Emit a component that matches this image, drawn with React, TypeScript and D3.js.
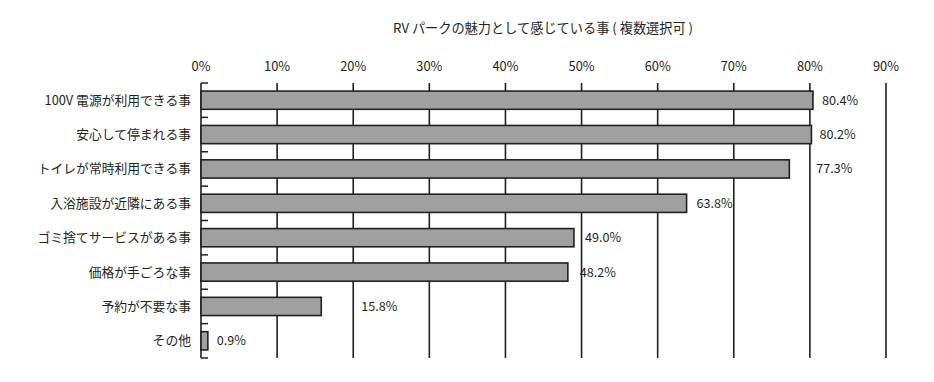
import React from "react";
import * as d3 from "d3";

const categories = [
  "100V 電源が利用できる事",
  "安心して停まれる事",
  "トイレが常時利用できる事",
  "入浴施設が近隣にある事",
  "ゴミ捨てサービスがある事",
  "価格が手ごろな事",
  "予約が不要な事",
  "その他",
];
const values = [80.4, 80.2, 77.3, 63.8, 49.0, 48.2, 15.8, 0.9];
const valueLabels = ["80.4%", "80.2%", "77.3%", "63.8%", "49.0%", "48.2%", "15.8%", "0.9%"];
const tickValues = [0, 10, 20, 30, 40, 50, 60, 70, 80, 90];
const title = "RV パークの魅力として感じている事 ( 複数選択可 )";
// label offsets (px) after bar end, as in the reference
const labelNudge = [9, 8, 27, 10, 11, 12, 40, 9];

const W = 934;
const H = 382;
const font = "'Noto Sans CJK JP', 'Noto Sans', sans-serif";
const ink = "#231f20";

export default function App() {
  const x = d3.scaleLinear().domain([0, 90]).range([201, 886]);
  const y = d3.scaleBand<string>().domain(categories).range([83, 358]).paddingInner(0.47).paddingOuter(0.235);
  const band = d3.scaleBand<string>().domain(categories).range([83, 358]);
  return (
    <svg width={W} height={H} style={{ position: "absolute", left: 0, top: 0 }} fontFamily={font}>
      <rect width={W} height={H} fill="#fff" />
      <text x={543} y={33} textAnchor="middle" fontSize={13.2} fill={ink}>{title}</text>
      {tickValues.map((t) => (
        <g key={t}>
          <text x={x(t)} y={71} textAnchor="middle" fontSize={12.8} fill={ink}>{t}%</text>
          <line x1={x(t)} x2={x(t)} y1={83} y2={358} stroke={ink} strokeWidth={1.6} />
        </g>
      ))}
      {categories.map((c, i) => (
        <line key={"tk" + i} x1={x(0)} x2={x(0) + 7} y1={band(c)!} y2={band(c)!} stroke={ink} strokeWidth={1.5} />
      ))}
      <line x1={x(0)} x2={x(0) + 7} y1={358} y2={358} stroke={ink} strokeWidth={1.5} />
      {categories.map((c, i) => (
        <g key={c}>
          <rect x={x(0)} y={y(c)!} width={x(values[i]) - x(0)} height={y.bandwidth()} fill="#a0a0a0" stroke={ink} strokeWidth={1.6} />
          <text x={191} y={y(c)! + y.bandwidth() / 2 + 4.5} textAnchor="end" fontSize={12.8} fill={ink}>{c}</text>
          <text x={x(values[i]) + labelNudge[i]} y={y(c)! + y.bandwidth() / 2 + 4.5} fontSize={12.6} fill={ink}>{valueLabels[i]}</text>
        </g>
      ))}
    </svg>
  );
}
